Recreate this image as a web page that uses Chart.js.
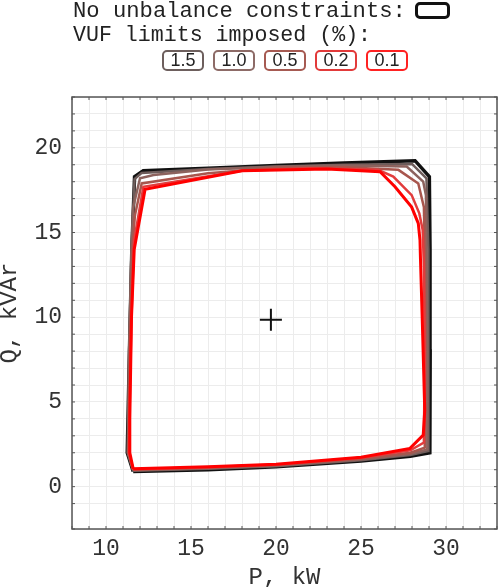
<!DOCTYPE html>
<html>
<head>
<meta charset="utf-8">
<script src="https://cdn.jsdelivr.net/npm/chart.js@4"></script>
<style>
  body { margin: 0; background: #fff; }
  #wrap { position: relative; width: 498px; height: 587px; }
  #chart { position: absolute; left: 0; top: 0; }
  .txt { position: absolute; left: 73px; font-family: "Liberation Mono", monospace; color: #222; white-space: pre; line-height: 22px; }
  .box { position: absolute; height: 17px; border: 2px solid; border-radius: 5px; font: 18px "Liberation Sans", sans-serif; color: #222; text-align: center; line-height: 17px; box-sizing: content-box; }
</style>
</head>
<body>
<div id="wrap">
  <canvas id="chart" width="498" height="587"></canvas>
  <div class="txt" style="top:1px; font-size:22.2px">No unbalance constraints:</div>
  <div class="box" style="left:415px; top:2px; width:29px; height:11px; border-width:3px; border-color:#111;"></div>
  <div class="txt" style="top:24px; font-size:21.6px">VUF limits imposed (%):</div>
  <div id="boxes"></div>
</div>
<script>
// x tick labels / y tick labels
const xTickLabels = [10, 15, 20, 25, 30];
const yTickLabels = [0, 5, 10, 15, 20];

// operating region with no unbalance constraint
const noneP = [11.6, 16, 20, 25, 27.9, 29.05, 29.07, 29.06, 29.02, 28.18, 24, 20, 16, 12.19, 11.68, 11.52, 11.38, 11.25, 11.6];
const noneQ = [0.9, 1.0, 1.17, 1.52, 1.8, 2.0, 8, 14, 18.3, 19.24, 19.1, 18.95, 18.8, 18.65, 18.3, 14, 8, 2.0, 0.9];

// VUF limit 1.5 %
const vuf15P = [11.6, 16, 20, 25, 27.9, 28.95, 28.98, 28.95, 28.85, 28.0, 24, 20, 16, 12.1, 11.68, 11.5, 11.36, 11.27, 11.6];
const vuf15Q = [0.94, 1.05, 1.2, 1.56, 1.87, 2.1, 8, 14, 18.2, 19.05, 19.0, 18.9, 18.75, 18.52, 18.15, 14, 8, 2.0, 0.94];

// VUF limit 1.0 %
const vuf10P = [11.6, 16, 20, 25, 27.9, 28.9, 28.9, 28.85, 28.82, 28.66, 27.69, 24, 20, 16, 12.8, 12.0, 11.6, 11.5, 11.36, 11.3, 11.6];
const vuf10Q = [0.97, 1.08, 1.24, 1.6, 1.93, 2.2, 8, 14, 17.2, 18.0, 18.9, 18.95, 18.88, 18.72, 18.4, 18.2, 16.5, 14, 8, 2.0, 0.97];

// VUF limit 0.5 %
const vuf05P = [11.6, 16, 20, 25, 27.9, 28.75, 28.8, 28.75, 28.7, 28.37, 27.2, 24, 20, 16, 12.1, 11.7, 11.55, 11.4, 11.32, 11.6];
const vuf05Q = [1.0, 1.12, 1.28, 1.65, 2.0, 2.3, 8, 14, 16.5, 17.9, 18.7, 18.85, 18.82, 18.5, 17.9, 16, 14, 8, 2.0, 1.0];

// VUF limit 0.2 %
const vuf02P = [11.6, 16, 20, 25, 27.9, 28.7, 28.75, 28.7, 28.63, 28.43, 27.98, 26.9, 26, 22, 18, 12.2, 11.65, 11.5, 11.38, 11.35, 11.6];
const vuf02Q = [1.03, 1.15, 1.3, 1.7, 2.15, 2.6, 8, 13, 15.15, 16.13, 17.21, 18.3, 18.7, 18.8, 18.65, 17.7, 14.5, 10, 4, 2.0, 1.03];

// VUF limit 0.1 %
const vuf01P = [11.6, 16, 20, 25, 27.88, 28.66, 28.75, 28.6, 28.5, 28.47, 28.37, 27.98, 27.0, 26.12, 23, 18, 12.3, 11.66, 11.5, 11.4, 11.4, 11.6];
const vuf01Q = [1.06, 1.18, 1.32, 1.73, 2.26, 3.05, 4.5, 10, 13.4, 14.56, 15.54, 16.5, 17.7, 18.59, 18.75, 18.65, 17.55, 14, 10, 4, 2.0, 1.06];

// centre point
const centerP = [19.7];
const centerQ = [9.85];

const curves = [
  { name: 'none', p: noneP, q: noneQ, color: '#111111', width: 3.5 },
  { name: '1.5', p: vuf15P, q: vuf15Q, color: '#6d5c5a', width: 2.5 },
  { name: '1.0', p: vuf10P, q: vuf10Q, color: '#8c625d', width: 2.5 },
  { name: '0.5', p: vuf05P, q: vuf05Q, color: '#a8564d', width: 2.5 },
  { name: '0.2', p: vuf02P, q: vuf02Q, color: '#e23c3c', width: 2.5 },
  { name: '0.1', p: vuf01P, q: vuf01Q, color: '#ff0000', width: 3 }
];

// legend boxes
const legendColors = ['#6d5f5d', '#8d6b67', '#a65a52', '#e23a3a', '#ff2222'];
const boxes = document.getElementById('boxes');
curves.slice(1).forEach((c, i) => {
  const d = document.createElement('div');
  d.className = 'box';
  d.style.left = (162 + i * 51) + 'px';
  d.style.top = '50px';
  d.style.width = '38px';
  d.style.borderColor = legendColors[i];
  d.textContent = c.name;
  boxes.appendChild(d);
});

const datasets = curves.map((c, i) => ({
  label: c.name,
  data: c.p.map((p, k) => ({ x: p, y: c.q[k] })),
  showLine: true,
  borderColor: c.color,
  borderWidth: c.width,
  pointRadius: 0,
  fill: false,
  tension: 0,
  borderJoinStyle: 'miter',
  order: curves.length - i
}));
datasets.push({
  label: 'centre',
  data: centerP.map((p, k) => ({ x: p, y: centerQ[k] })),
  pointStyle: 'cross',
  pointRadius: 11,
  borderWidth: 2,
  borderColor: '#111',
  order: 0
});

const frame = {
  id: 'frame',
  afterDraw(chart) {
    const { ctx, chartArea: a, scales } = chart;
    ctx.save();
    ctx.strokeStyle = '#555';
    ctx.lineWidth = 1;
    scales.x.ticks.forEach(t => {
      const x = scales.x.getPixelForValue(t.value);
      ctx.beginPath();
      ctx.moveTo(x, a.bottom); ctx.lineTo(x, a.bottom - 3);
      ctx.moveTo(x, a.top); ctx.lineTo(x, a.top + 3);
      ctx.stroke();
    });
    scales.y.ticks.forEach(t => {
      const y = scales.y.getPixelForValue(t.value);
      ctx.beginPath();
      ctx.moveTo(a.left, y); ctx.lineTo(a.left + 3, y);
      ctx.moveTo(a.right, y); ctx.lineTo(a.right - 3, y);
      ctx.stroke();
    });
    ctx.lineWidth = 1.5;
    ctx.strokeRect(a.left, a.top, a.right - a.left, a.bottom - a.top);
    ctx.restore();
  }
};

const tickFont = { family: 'Liberation Mono', size: 23 };

new Chart(document.getElementById('chart'), {
  type: 'scatter',
  data: { datasets },
  options: {
    responsive: false,
    animation: false,
    layout: { autoPadding: false, padding: { top: 97, right: 1, left: 0, bottom: 0 } },
    plugins: { legend: { display: false }, tooltip: { enabled: false } },
    scales: {
      x: {
        type: 'linear', min: 8, max: 33,
        ticks: {
          stepSize: 1, autoSkip: false, maxRotation: 0, color: '#333', font: tickFont, padding: 6,
          callback: v => xTickLabels.includes(v) ? String(v) : ''
        },
        grid: { color: '#ececec', drawTicks: false },
        border: { display: false },
        title: { display: true, text: 'P, kW', color: '#333', font: { family: 'Liberation Mono', size: 24, lineHeight: 0.75 }, padding: { top: 0, bottom: 0 } },
        afterFit: s => { s.height = 58; s.paddingLeft = 0; s.paddingRight = 0; }
      },
      y: {
        type: 'linear', min: -2.5, max: 23,
        ticks: {
          stepSize: 1, autoSkip: false, color: '#333', font: tickFont, padding: 10,
          callback: v => yTickLabels.includes(v) ? String(v) : ''
        },
        grid: { color: '#ececec', drawTicks: false },
        border: { display: false },
        title: { display: true, text: 'Q, kVAr', color: '#333', font: { family: 'Liberation Mono', size: 24, lineHeight: 0.8 }, padding: { top: 0, bottom: 0 } },
        afterFit: s => { s.width = 72; s.paddingTop = 0; s.paddingBottom = 0; }
      }
    }
  },
  plugins: [frame]
});
</script>
</body>
</html>
